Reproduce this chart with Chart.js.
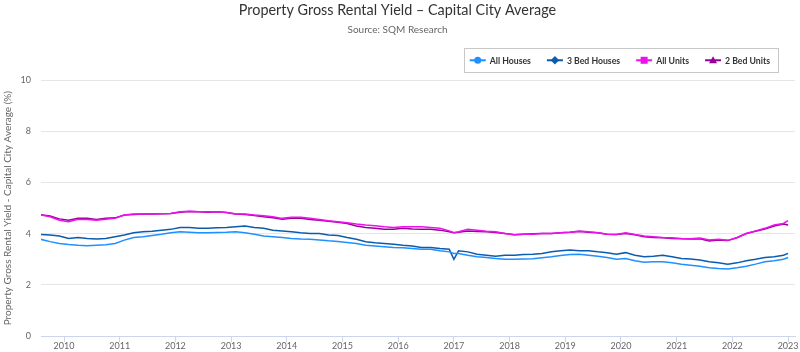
<!DOCTYPE html>
<html lang="en">
  <head>
    <meta charset="UTF-8" />
    <title>Property Gross Rental Yield</title>
    <script src="https://cdn.jsdelivr.net/npm/chart.js"></script>
    <style>
      html,
      body {
        margin: 0;
        padding: 0;
        background: #fff;
      }
      #wrap {
        width: 800px;
        height: 352px;
      }
    </style>
  </head>
  <body>
    <div id="wrap"><canvas id="yieldChart"></canvas></div>
    <script>
      // sample dates (roughly every two months)
      const months = [
        "2009-08", "2009-10", "2009-12", "2010-02", "2010-04", "2010-06", "2010-08",
        "2010-10", "2010-12", "2011-02", "2011-04", "2011-06", "2011-08", "2011-10",
        "2011-12", "2012-02", "2012-04", "2012-06", "2012-08", "2012-10", "2012-12",
        "2013-02", "2013-04", "2013-06", "2013-08", "2013-10", "2013-12", "2014-02",
        "2014-04", "2014-06", "2014-08", "2014-10", "2014-12", "2015-02", "2015-04",
        "2015-06", "2015-08", "2015-10", "2015-12", "2016-02", "2016-04", "2016-06",
        "2016-08", "2016-10", "2016-12", "2017-01", "2017-02", "2017-04", "2017-06",
        "2017-08", "2017-10", "2017-12", "2018-02", "2018-04", "2018-06", "2018-08",
        "2018-10", "2018-12", "2019-02", "2019-04", "2019-06", "2019-08", "2019-10",
        "2019-12", "2020-02", "2020-04", "2020-06", "2020-08", "2020-10", "2020-12",
        "2021-02", "2021-04", "2021-06", "2021-08", "2021-10", "2021-12", "2022-02",
        "2022-04", "2022-06", "2022-08", "2022-10", "2022-12", "2023-01",
      ];

      const allHouses = [
        3.78, 3.69, 3.62, 3.58, 3.55, 3.53, 3.55, 3.57, 3.62, 3.75, 3.85, 3.88, 3.93, 3.98,
        4.04, 4.08, 4.06, 4.04, 4.04, 4.05, 4.06,
        4.08, 4.04, 3.98, 3.91, 3.88, 3.85, 3.81, 3.79, 3.78, 3.75, 3.72, 3.7, 3.66, 3.62,
        3.55, 3.52, 3.49, 3.46, 3.45, 3.42, 3.39,
        3.39, 3.33, 3.29, 3.23, 3.23, 3.16, 3.1, 3.07, 3.03, 3.0, 3.0, 3.01, 3.02, 3.06,
        3.1, 3.15, 3.19, 3.2, 3.16, 3.12, 3.07,
        3.0, 3.03, 2.94, 2.88, 2.9, 2.9, 2.86, 2.81, 2.77, 2.73, 2.67, 2.64, 2.62, 2.67,
        2.73, 2.81, 2.9, 2.94, 3.0, 3.07,
      ];

      const threeBedHouses = [
        3.97, 3.95, 3.91, 3.81, 3.85, 3.81, 3.79, 3.81, 3.88, 3.95, 4.04, 4.08, 4.1, 4.14,
        4.17, 4.24, 4.24, 4.21, 4.21, 4.23, 4.24,
        4.27, 4.3, 4.24, 4.21, 4.14, 4.11, 4.08, 4.04, 4.01, 4.01, 3.95, 3.93, 3.85, 3.78,
        3.69, 3.65, 3.62, 3.59, 3.55, 3.52, 3.46,
        3.46, 3.42, 3.39, 3.0, 3.33, 3.29, 3.2, 3.16, 3.12, 3.16, 3.16, 3.19, 3.2, 3.23,
        3.29, 3.33, 3.36, 3.33, 3.33, 3.29, 3.26,
        3.2, 3.26, 3.16, 3.1, 3.12, 3.16, 3.1, 3.03, 3.01, 2.97, 2.9, 2.86, 2.81, 2.86,
        2.94, 3.0, 3.07, 3.1, 3.16, 3.23,
      ];

      const allUnits = [
        4.73, 4.66, 4.53, 4.47, 4.56, 4.56, 4.53, 4.57, 4.6, 4.73, 4.77, 4.77, 4.77, 4.78,
        4.79, 4.86, 4.88, 4.86, 4.86, 4.86, 4.83,
        4.77, 4.77, 4.73, 4.7, 4.66, 4.6, 4.64, 4.64, 4.6, 4.56, 4.51, 4.47, 4.43, 4.38,
        4.34, 4.31, 4.27, 4.24, 4.27, 4.27, 4.27,
        4.24, 4.21, 4.11, 4.04, 4.08, 4.17, 4.14, 4.1, 4.08, 4.01, 3.96, 3.98, 3.98, 4.01,
        4.01, 4.04, 4.06, 4.11, 4.08, 4.04, 3.98,
        3.97, 4.04, 3.97, 3.91, 3.88, 3.85, 3.84, 3.81, 3.8, 3.83, 3.75, 3.78, 3.74, 3.85,
        4.01, 4.11, 4.21, 4.34, 4.4, 4.51,
      ];

      const twoBedUnits = [
        4.74, 4.69, 4.58, 4.53, 4.6, 4.6, 4.56, 4.6, 4.62, 4.73, 4.75, 4.77, 4.77, 4.78,
        4.79, 4.84, 4.87, 4.86, 4.84, 4.86, 4.83,
        4.77, 4.75, 4.71, 4.66, 4.62, 4.57, 4.6, 4.6, 4.56, 4.53, 4.49, 4.45, 4.4, 4.3,
        4.24, 4.21, 4.17, 4.17, 4.21, 4.18, 4.17,
        4.17, 4.14, 4.08, 4.04, 4.06, 4.11, 4.09, 4.08, 4.05, 4.01, 3.96, 3.98, 4.0, 4.01,
        4.01, 4.04, 4.06, 4.09, 4.06, 4.04, 3.98,
        3.97, 4.01, 3.96, 3.88, 3.85, 3.84, 3.81, 3.8, 3.79, 3.8, 3.72, 3.75, 3.73, 3.84,
        4.01, 4.1, 4.18, 4.3, 4.38, 4.34,
      ];

      const yearTicks = [
        2010, 2011, 2012, 2013, 2014, 2015, 2016, 2017, 2018, 2019, 2020, 2021, 2022, 2023,
      ];

      const FONT = "Lato";

      function toYear(m) {
        const [y, mo] = m.split("-").map(Number);
        return y + (mo - 1) / 12;
      }

      function series(values) {
        return values.map((v, i) => ({ x: toYear(months[i]), y: v }));
      }

      function drawMarker(ctx, style, x, y) {
        ctx.beginPath();
        if (style === "circle") {
          ctx.arc(x, y, 3.5, 0, Math.PI * 2);
        } else if (style === "rectRot") {
          ctx.moveTo(x, y - 4.2);
          ctx.lineTo(x + 4.2, y);
          ctx.lineTo(x, y + 4.2);
          ctx.lineTo(x - 4.2, y);
        } else if (style === "rect") {
          ctx.rect(x - 3.5, y - 3.5, 7, 7);
        } else {
          ctx.moveTo(x, y - 4);
          ctx.lineTo(x + 4, y + 3);
          ctx.lineTo(x - 4, y + 3);
        }
        ctx.closePath();
        ctx.fill();
      }

      // highcharts-like boxed legend, top right
      const boxedLegend = {
        id: "boxedLegend",
        afterDraw(chart) {
          const ctx = chart.ctx;
          const sets = chart.data.datasets;
          ctx.save();
          ctx.font = "bold 8.7px " + FONT;
          const widths = sets.map((ds) => 20 + ctx.measureText(ds.label).width);
          const gap = 16;
          const total = widths.reduce((a, b) => a + b, 0) + gap * (sets.length - 1);
          let x = chart.chartArea.right - 25 - total;
          const cy = chart.chartArea.top - 20;
          ctx.strokeStyle = "#c8c8c8";
          ctx.lineWidth = 1;
          ctx.strokeRect(Math.round(x - 6) + 0.5, Math.round(cy - 12) + 0.5, Math.round(total + 14), 24);
          sets.forEach((ds, i) => {
            ctx.strokeStyle = ds.borderColor;
            ctx.fillStyle = ds.borderColor;
            ctx.lineWidth = 2;
            ctx.beginPath();
            ctx.moveTo(x, cy);
            ctx.lineTo(x + 16, cy);
            ctx.stroke();
            drawMarker(ctx, ds.pointStyle, x + 8, cy);
            ctx.fillStyle = "#333";
            ctx.textBaseline = "middle";
            ctx.fillText(ds.label, x + 20, cy + 0.5);
            x += widths[i] + gap;
          });
          ctx.restore();
        },
      };

      const ctx = document.getElementById("yieldChart").getContext("2d");
      new Chart(ctx, {
        type: "line",
        data: {
          datasets: [
            { label: "All Houses", data: series(allHouses), borderColor: "#1e90ff", pointStyle: "circle" },
            { label: "3 Bed Houses", data: series(threeBedHouses), borderColor: "#0b5cad", pointStyle: "rectRot" },
            { label: "All Units", data: series(allUnits), borderColor: "#ee11ee", pointStyle: "rect" },
            { label: "2 Bed Units", data: series(twoBedUnits), borderColor: "#990099", pointStyle: "triangle" },
          ],
        },
        options: {
          responsive: true,
          maintainAspectRatio: false,
          animation: false,
          devicePixelRatio: 1,
          layout: { padding: { left: 0, right: 5, top: 0, bottom: 0 } },
          elements: {
            line: { borderWidth: 1.5, tension: 0 },
            point: { radius: 0 },
          },
          plugins: {
            legend: { display: false },
            tooltip: { enabled: false },
            title: {
              display: true,
              text: "Property Gross Rental Yield – Capital City Average",
              color: "#333",
              font: { family: FONT, size: 14.4, weight: "normal" },
              padding: { top: 2, bottom: 4 },
            },
            subtitle: {
              display: true,
              text: "Source: SQM Research",
              color: "#666",
              font: { family: FONT, size: 10, weight: "normal" },
              padding: { top: 1, bottom: 44 },
            },
          },
          scales: {
            x: {
              type: "linear",
              min: 2009.587,
              max: 2023.124,
              afterBuildTicks: (axis) => {
                axis.ticks = yearTicks.map((v) => ({ value: v }));
              },
              afterFit: (axis) => {
                axis.height = 16;
              },
              grid: {
                drawOnChartArea: false,
                drawTicks: true,
                tickLength: 6,
                tickColor: "#ccd6eb",
              },
              border: { color: "#ccd6eb" },
              ticks: {
                color: "#666",
                font: { family: FONT, size: 9 },
                padding: -1,
                maxRotation: 0,
                autoSkip: false,
                callback: (v) => String(v),
              },
            },
            y: {
              min: 0,
              max: 10,
              afterFit: (axis) => {
                axis.width = 41;
              },
              grid: {
                drawTicks: false,
                color: (c) => (c.tick && c.tick.value === 0 ? "#ccd6eb" : "#e6e6e6"),
              },
              border: { display: false },
              ticks: {
                stepSize: 2,
                color: "#666",
                font: { family: FONT, size: 9 },
                padding: 10,
              },
              title: {
                display: true,
                text: "Property Gross Rental Yield - Capital City Average (%)",
                color: "#666",
                font: { family: FONT, size: 10 },
                padding: { top: 2, bottom: 0 },
              },
            },
          },
        },
        plugins: [boxedLegend],
      });
    </script>
  </body>
</html>
